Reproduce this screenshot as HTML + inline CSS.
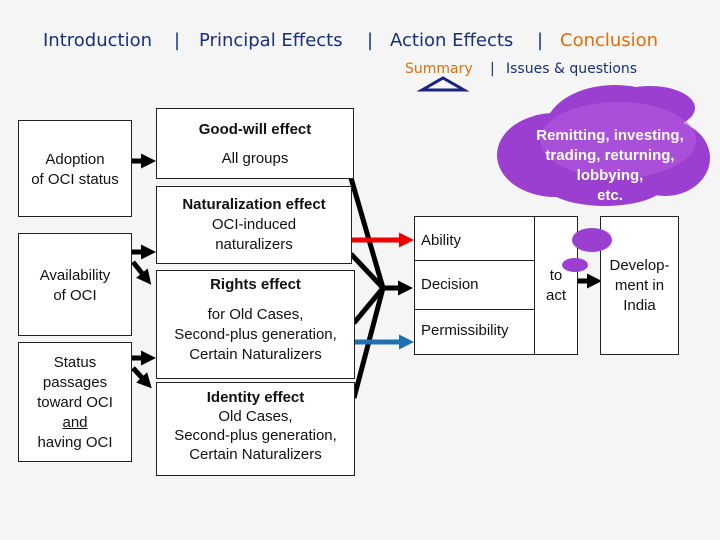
<!DOCTYPE html>
<html><head><meta charset="utf-8"><style>
body{margin:0;width:720px;height:540px;background:#f5f5f5;position:relative;overflow:hidden;font-family:"Liberation Sans",sans-serif}
.b{position:absolute;background:#fff;border:1px solid #222;box-sizing:border-box;text-align:center;font-size:15px;color:#111;line-height:20px}
.h{position:absolute;font-family:"DejaVu Sans",sans-serif;color:#1a2f7a;white-space:nowrap;font-size:18px;top:30px}
.s{position:absolute;font-family:"DejaVu Sans",sans-serif;color:#1a2f7a;white-space:nowrap;font-size:14px;top:61px}
</style></head><body>
<div class="h" style="left:43px">Introduction</div>
<div class="h" style="left:174px">|</div>
<div class="h" style="left:199px">Principal Effects</div>
<div class="h" style="left:367px">|</div>
<div class="h" style="left:390px">Action Effects</div>
<div class="h" style="left:537px">|</div>
<div class="h" style="left:560px;color:#e36c09">Conclusion</div>
<div class="s" style="left:405px;color:#e36c09">Summary</div>
<div class="s" style="left:490px">|</div>
<div class="s" style="left:506px">Issues &amp; questions</div>
<svg style="position:absolute;left:0;top:0" width="720" height="540">
<polygon points="422,90 443,78 464,90" fill="none" stroke="#1a237e" stroke-width="3"/>
<defs>
<marker id="a" markerWidth="3" markerHeight="3" refX="1" refY="1.5" orient="auto" markerUnits="strokeWidth"><path d="M0,0 L3,1.5 L0,3z" fill="#000"/></marker>
<marker id="r" markerWidth="3" markerHeight="3" refX="1" refY="1.5" orient="auto" markerUnits="strokeWidth"><path d="M0,0 L3,1.5 L0,3z" fill="#e00"/></marker>
<marker id="u" markerWidth="3" markerHeight="3" refX="1" refY="1.5" orient="auto" markerUnits="strokeWidth"><path d="M0,0 L3,1.5 L0,3z" fill="#1f6fb5"/></marker>
</defs>
<g stroke="#000" stroke-width="5" fill="none">
<line x1="132" y1="161" x2="146" y2="161" marker-end="url(#a)"/>
<line x1="132" y1="252" x2="146" y2="252" marker-end="url(#a)"/>
<line x1="133" y1="262" x2="145" y2="277" marker-end="url(#a)"/>
<line x1="132" y1="358" x2="146" y2="358" marker-end="url(#a)"/>
<line x1="133" y1="368" x2="145" y2="381" marker-end="url(#a)"/>
<line x1="351" y1="178" x2="383" y2="288"/>
<line x1="351" y1="254" x2="383" y2="288"/>
<line x1="354" y1="323" x2="383" y2="288"/>
<line x1="354" y1="398" x2="383" y2="288"/>
<line x1="383" y1="288" x2="403" y2="288" marker-end="url(#a)"/>
<line x1="577" y1="281" x2="592" y2="281" marker-end="url(#a)"/>
</g>
<line x1="352" y1="240" x2="404" y2="240" stroke="#e00" stroke-width="5" marker-end="url(#r)"/>
<line x1="355" y1="342" x2="404" y2="342" stroke="#1f6fb5" stroke-width="5" marker-end="url(#u)"/>
</svg>
<div class="b" style="left:18px;top:120px;width:114px;height:97px;padding-top:29px">Adoption<br>of OCI status</div>
<div class="b" style="left:18px;top:233px;width:114px;height:103px;padding-top:32px">Availability<br>of OCI</div>
<div class="b" style="left:18px;top:342px;width:114px;height:120px;padding-top:10px">Status<br>passages<br>toward OCI<br><u>and</u><br>having OCI</div>
<div class="b" style="left:156px;top:108px;width:198px;height:71px;padding-top:11px"><b>Good-will effect</b><br><div style="margin-top:9px">All groups</div></div>
<div class="b" style="left:156px;top:186px;width:196px;height:78px;padding-top:8px"><b>Naturalization effect</b><br>OCI-induced<br>naturalizers</div>
<div class="b" style="left:156px;top:270px;width:199px;height:109px;padding-top:4px"><b>Rights effect</b><div style="margin-top:10px">for Old Cases,<br>Second-plus generation,<br>Certain Naturalizers</div></div>
<div class="b" style="left:156px;top:382px;width:199px;height:94px;padding-top:5px;line-height:19px"><b>Identity effect</b><br>Old Cases,<br>Second-plus generation,<br>Certain Naturalizers</div>
<div class="b" style="left:414px;top:216px;width:121px;height:45px;text-align:left;padding:14px 0 0 6px">Ability</div>
<div class="b" style="left:414px;top:260px;width:121px;height:50px;text-align:left;padding:14px 0 0 6px">Decision</div>
<div class="b" style="left:414px;top:309px;width:121px;height:46px;text-align:left;padding:11px 0 0 6px">Permissibility</div>
<div class="b" style="left:534px;top:216px;width:44px;height:139px;padding-top:49px">to<br>act</div>
<div class="b" style="left:600px;top:216px;width:79px;height:139px;padding-top:39px">Develop-<br>ment in<br>India</div>
<svg style="position:absolute;left:0;top:0" width="720" height="540">
<g fill="#9b3fd0">
<ellipse cx="555" cy="155" rx="58" ry="42"/><ellipse cx="615" cy="130" rx="70" ry="45"/><ellipse cx="665" cy="158" rx="45" ry="38"/>
<ellipse cx="605" cy="182" rx="62" ry="24"/><ellipse cx="650" cy="108" rx="45" ry="22"/>
<ellipse cx="592" cy="240" rx="20" ry="12"/><ellipse cx="575" cy="265" rx="13" ry="7"/>
</g>
<ellipse cx="618" cy="140" rx="78" ry="38" fill="#b35ae0" opacity="0.6"/>
</svg>
<div style="position:absolute;left:520px;top:126px;font-size:15px;color:#fff;text-align:center;line-height:20px;width:180px;font-weight:bold">Remitting, investing,<br>trading, returning,<br>lobbying,<br>etc.</div>
</body></html>
